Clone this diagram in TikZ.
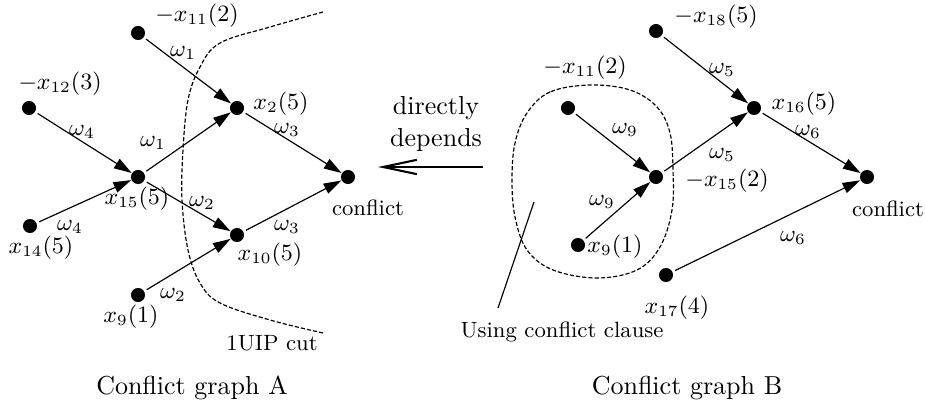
\documentclass[tikz,border=0pt]{standalone}
\usetikzlibrary{arrows.meta}
\begin{document}
\begin{tikzpicture}[x=0.3846pt,y=-0.3846pt,
  dot/.style={circle,fill=black,inner sep=0pt,minimum size=5.4pt},
  lbl/.style={font=\fontsize{8.7}{10}\selectfont,inner sep=0pt},
  small/.style={font=\fontsize{8.5}{10}\selectfont,inner sep=0pt},
  big/.style={font=\fontsize{10}{12}\selectfont,inner sep=0pt},
  edge/.style={-{Triangle[length=6.8pt,width=4.2pt]},line width=0.45pt,shorten <=1pt},
  cut/.style={line width=0.45pt,dash pattern=on 1.6pt off 0.8pt}]
\useasboundingbox (0,0) rectangle (925,409);
% ---------- Graph A ----------
\node[dot] (a11) at (138,33) {};
\node[dot] (a12) at (29,108) {};
\node[dot] (a2) at (237,108) {};
\node[dot] (a15) at (138,177) {};
\node[dot] (a14) at (30,226) {};
\node[dot] (a10) at (237,235) {};
\node[dot] (a9) at (138,295) {};
\node[dot] (aC) at (348,177) {};
\node[lbl] (la11) at (197,16) {$-x_{11}(2)$};
\node[lbl] (la12) at (60,84) {$-x_{12}(3)$};
\node[lbl] (la2) at (281,104) {$x_{2}(5)$};
\node[lbl] (la15) at (137,199) {$x_{15}(5)$};
\node[lbl] (la14) at (41,248) {$x_{14}(5)$};
\node[lbl] (la10) at (270,255) {$x_{10}(5)$};
\node[lbl] (la9) at (131,317) {$x_{9}(1)$};
\node[small] (laC) at (368,208) {conflict};
\draw[edge] (a11) -- (a2);
\draw[edge] (a12) -- (a15);
\draw[edge] (a15) -- (a2);
\draw[edge] (a15) -- (a10);
\draw[edge] (a14) -- (a15);
\draw[edge] (a2) -- (aC);
\draw[edge] (a10) -- (aC);
\draw[edge] (a9) -- (a10);
\node[lbl] (wa1) at (183,53) {$\omega_1$};
\node[lbl] (wa2) at (82,132) {$\omega_4$};
\node[lbl] (wa3) at (153,143) {$\omega_1$};
\node[lbl] (wa4) at (202,203) {$\omega_2$};
\node[lbl] (wa5) at (70,227) {$\omega_4$};
\node[lbl] (wa6) at (287,130) {$\omega_3$};
\node[lbl] (wa7) at (287,227) {$\omega_3$};
\node[lbl] (wa8) at (173,295) {$\omega_2$};
\draw[cut] plot[smooth,tension=0.6] coordinates {(323,12) (270,27) (220,43) (200,67) (188,100) (183,150) (182,200) (188,250) (200,283) (220,303) (270,320) (323,333)};
\node[small] (cutl) at (272,343) {1UIP cut};
\node[big] (capA) at (192,388) {Conflict graph A};
% ---------- middle ----------
\node[big,align=center] (dd) at (436,124) {directly\\depends};
\coordinate (arrS) at (483,167);
\coordinate (arrE) at (378,167);
\draw[line width=0.45pt,-{Straight Barb[length=13pt,width=5.5pt,line width=0.8pt]}] (arrS) -- (arrE);
% ---------- Graph B ----------
\node[dot] (b18) at (656,31) {};
\node[dot] (b11) at (568,108) {};
\node[dot] (b15) at (656,177) {};
\node[dot] (b16) at (754,108) {};
\node[dot] (bC) at (867,177) {};
\node[dot] (b9) at (578,245) {};
\node[dot] (b17) at (666,275) {};
\node[lbl] (lb18) at (716,17) {$-x_{18}(5)$};
\node[lbl] (lb11) at (585,68) {$-x_{11}(2)$};
\node[lbl] (lb15) at (727,181) {$-x_{15}(2)$};
\node[lbl] (lb16) at (804,104) {$x_{16}(5)$};
\node[small] (lbC) at (888,209) {conflict};
\node[lbl] (lb9) at (615,247) {$x_{9}(1)$};
\node[lbl] (lb17) at (677,308) {$x_{17}(4)$};
\draw[edge] (b18) -- (b16);
\draw[edge] (b11) -- (b15);
\draw[edge] (b15) -- (b16);
\draw[edge] (b16) -- (bC);
\draw[edge] (b9) -- (b15);
\draw[edge] (b17) -- (bC);
\node[lbl] (wb1) at (722,70) {$\omega_5$};
\node[lbl] (wb2) at (625,130) {$\omega_9$};
\node[lbl] (wb3) at (722,155) {$\omega_5$};
\node[lbl] (wb4) at (808,132) {$\omega_6$};
\node[lbl] (wb5) at (602,202) {$\omega_9$};
\node[lbl] (wb6) at (793,238) {$\omega_6$};
\draw[cut] plot[smooth cycle,tension=0.6] coordinates {(590,85) (550,92) (527,113) (515,143) (512,180) (515,217) (527,250) (553,270) (597,278) (637,270) (660,247) (672,210) (673,170) (670,133) (657,107) (630,90)};
\coordinate (ptrT) at (534,202);
\coordinate (ptrB) at (498,308);
\draw[line width=0.45pt] (ptrT) -- (ptrB);
\node[small] (ucc) at (562,332) {Using conflict clause};
\node[big] (capB) at (687,388) {Conflict graph B};
\end{tikzpicture}
\end{document}
